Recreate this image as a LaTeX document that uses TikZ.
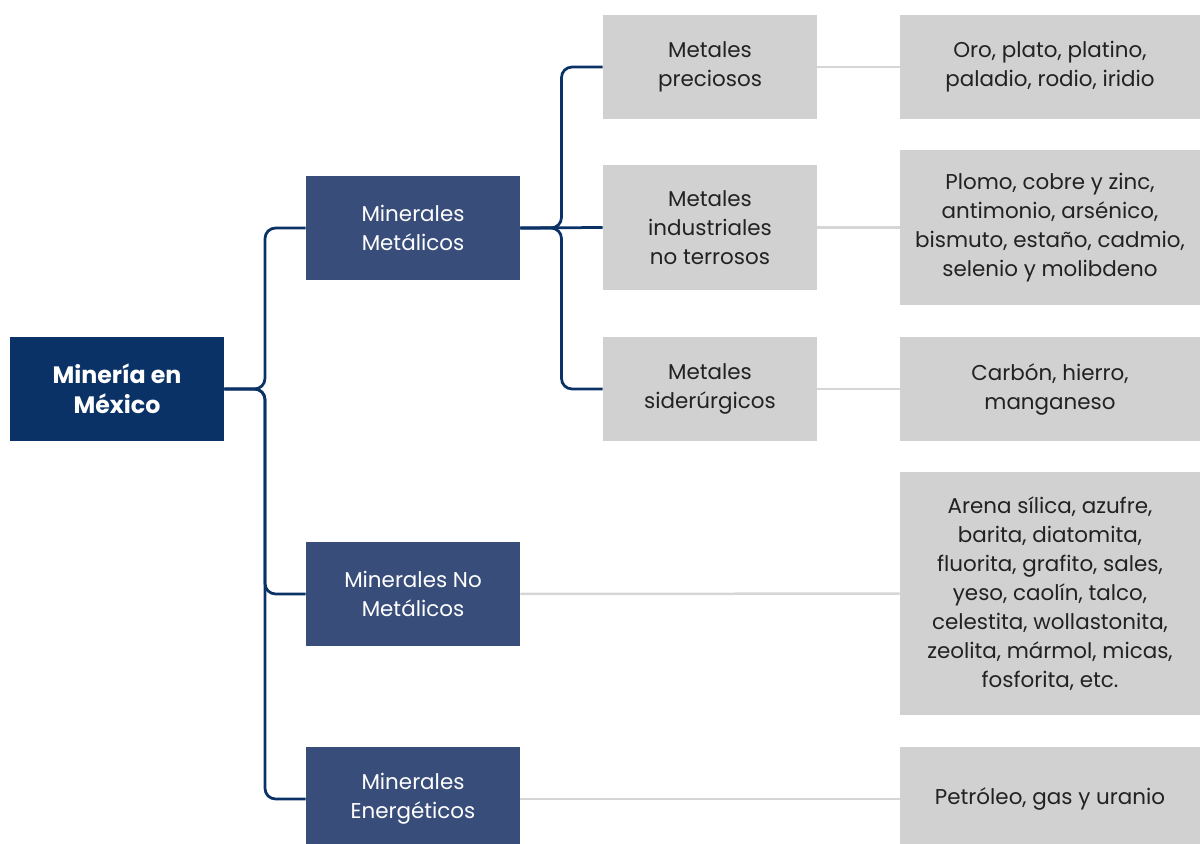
\documentclass[tikz,border=0pt]{standalone}
\usepackage{fontspec}
\setmainfont{Poppins}
\usepackage{tikz}
\usetikzlibrary{positioning, calc}
\definecolor{navy}{HTML}{0B3266}
\definecolor{slate}{HTML}{394D7A}
\definecolor{stone}{HTML}{D0D1D0}
\definecolor{rulegray}{HTML}{D6D6D6}
\definecolor{ink}{HTML}{222222}
\tikzstyle{root} = [rectangle, minimum width=4.28cm, minimum height=2.08cm, inner sep=0pt, align=center, fill=navy, text=white, font=\fontsize{13.5}{17}\selectfont\bfseries]
\tikzstyle{group} = [rectangle, minimum width=4.28cm, minimum height=2.08cm, inner sep=0pt, align=center, fill=slate, text=white, font=\fontsize{12.2}{16.5}\selectfont]
\tikzstyle{kind} = [rectangle, minimum width=4.28cm, minimum height=2.08cm, inner sep=0pt, align=center, fill=stone, text=ink, font=\fontsize{12.2}{16.5}\selectfont]
\tikzstyle{list} = [rectangle, minimum width=6cm, minimum height=2.08cm, inner sep=0pt, align=center, fill=stone, text=ink, font=\fontsize{12.2}{16.5}\selectfont]
\tikzstyle{link} = [navy, line width=.55mm, rounded corners=6pt]
\tikzstyle{guide} = [rulegray, line width=.5mm]

\begin{document}
\begin{tikzpicture}[x=0.02cm, y=-0.02cm]
    \useasboundingbox (0,0) rectangle (1200,844);
    \node (mineria) [root] at (117,389) {Minería en\\México};
    \node (metalicos) [group] at (413,228) {Minerales\\Metálicos};
    \node (nometalicos) [group] at (413,594) {Minerales No\\Metálicos};
    \node (energeticos) [group] at (413,799) {Minerales\\Energéticos};

    \node (preciosos) [kind] at (710,67) {Metales\\preciosos};
    \node (industriales) [kind, minimum height=2.5cm] at (710,227.5) {Metales\\industriales\\no terrosos};
    \node (siderurgicos) [kind] at (710,389) {Metales\\siderúrgicos};

    \node (lpreciosos) [list] at (1050,67) {Oro, plato, platino,\\paladio, rodio, iridio};
    \node (lindustriales) [list, minimum height=3.1cm] at (1050,227.5) {Plomo, cobre y zinc,\\antimonio, arsénico,\\bismuto, estaño, cadmio,\\selenio y molibdeno};
    \node (lsiderurgicos) [list] at (1050,389) {Carbón, hierro,\\manganeso};
    \node (lnometalicos) [list, minimum height=4.86cm] at (1050,593.5) {Arena sílica, azufre,\\barita, diatomita,\\fluorita, grafito, sales,\\yeso, caolín, talco,\\celestita, wollastonita,\\zeolita, mármol, micas,\\fosforita, etc.};
    \node (lenergeticos) [list] at (1050,799) {Petróleo, gas y uranio};

    \coordinate (j1) at ($(mineria.east)!.5!(metalicos.west |- mineria.east)$);
    \coordinate (j2) at ($(metalicos.east)!.5!(preciosos.west |- metalicos.east)$);

    \draw [link] (mineria.east) -- (j1) |- (metalicos.west);
    \draw [link] (mineria.east) -- (j1) |- (nometalicos.west);
    \draw [link] (mineria.east) -- (j1) |- (energeticos.west);
    \draw [link] (metalicos.east) -- (j2) |- (preciosos.west);
    \draw [link] (metalicos.east) -- (industriales.west);
    \draw [link] (metalicos.east) -- (j2) |- (siderurgicos.west);

    \draw [guide] (preciosos) -- (lpreciosos);
    \draw [guide] (industriales) -- (lindustriales);
    \draw [guide] (siderurgicos) -- (lsiderurgicos);
    \draw [guide] (nometalicos) -- (lnometalicos);
    \draw [guide] (energeticos) -- (lenergeticos);
\end{tikzpicture}
\end{document}
